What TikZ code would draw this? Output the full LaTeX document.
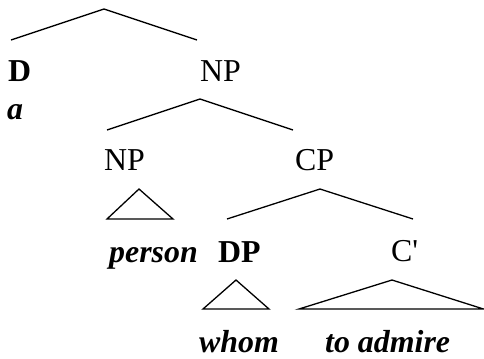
\documentclass[tikz,border=0pt]{standalone}
\usepackage{fontspec}
\setmainfont{Liberation Serif}[Ligatures=TeXOff]
\begin{document}
\begin{tikzpicture}[x=1bp,y=-1bp,
  lbl/.style={anchor=base west,inner sep=0pt,font=\fontsize{32}{37}\selectfont},
  cat/.style={lbl},
  bcat/.style={lbl,font=\fontsize{32}{37}\selectfont\bfseries},
  word/.style={lbl,font=\fontsize{32}{37}\selectfont\bfseries\itshape},
  br/.style={line width=1.3bp,line join=miter}]
\useasboundingbox (0,0) rectangle (484,358);
% text nodes
\node[bcat] (D) at (8,81) {D};
\node[word] (a) at (7,119) {a};
\node[cat] (NP1) at (200,81) {NP};
\node[cat] (NP2) at (104,170) {NP};
\node[cat] (CP) at (295,170) {CP};
\node[word] (person) at (109,262) {person};
\node[bcat] (DP) at (218,262) {DP};
\node[cat] (Cbar) at (391,261) {C'};
\node[word] (whom) at (199,352) {whom};
\node[word] (toadmire) at (325,352) {to admire};
% branch points
\coordinate (t0) at (104,9);
\coordinate (t0l) at (11,40);
\coordinate (t0r) at (197,40);
\coordinate (t1) at (200,99);
\coordinate (t1l) at (107,130);
\coordinate (t1r) at (293,130);
\coordinate (t2) at (139,189);
\coordinate (t2l) at (107,219);
\coordinate (t2r) at (173,219);
\coordinate (t3) at (320,189);
\coordinate (t3l) at (227,219);
\coordinate (t3r) at (413,219);
\coordinate (t4) at (236,280);
\coordinate (t4l) at (203,309);
\coordinate (t4r) at (269,309);
\coordinate (t5) at (392,280);
\coordinate (t5l) at (299,309);
\coordinate (t5r) at (483.5,309);
% connectors
\draw[br] (t0l) -- (t0) -- (t0r);
\draw[br] (t1l) -- (t1) -- (t1r);
\draw[br] (t2l) -- (t2) -- (t2r) -- cycle;
\draw[br] (t3l) -- (t3) -- (t3r);
\draw[br] (t4l) -- (t4) -- (t4r) -- cycle;
\draw[br] (t5l) -- (t5) -- (t5r) -- cycle;
\end{tikzpicture}
\end{document}
